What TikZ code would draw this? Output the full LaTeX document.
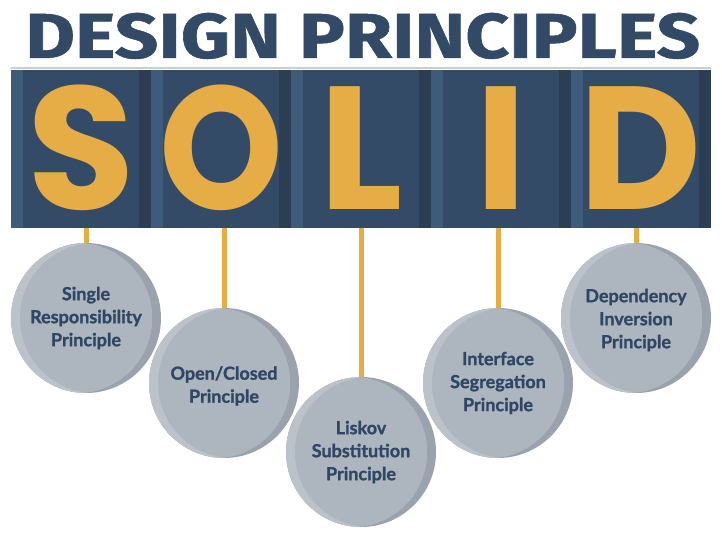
\documentclass[tikz,border=0pt]{standalone}
\usepackage{fontspec}
\usepackage{graphicx}
\newfontfamily\letterfont{Poppins}
\newfontfamily\titlefont{Fira Sans}[BoldFeatures={FakeBold=0.8}]
\newfontfamily\circfont{Lato}[BoldFeatures={FakeBold=1.2}]
\definecolor{navy}{HTML}{324A66}
\definecolor{panelmain}{HTML}{334B67}
\definecolor{panellight}{HTML}{3E5B7A}
\definecolor{paneldark}{HTML}{2C3E54}
\definecolor{gold}{HTML}{E6AC46}
\definecolor{stemgold}{HTML}{E8AC40}
\definecolor{cmain}{HTML}{ADB5BE}
\definecolor{clight}{HTML}{BBC2CA}
\definecolor{cdark}{HTML}{9AA3AD}
\definecolor{rulegray}{HTML}{C8CED6}
\definecolor{ctextcol}{HTML}{2F4765}
\tikzset{
  letter/.style={anchor=base, inner sep=0pt, text=gold, font=\letterfont\bfseries\fontsize{175}{175}\selectfont},
  ctext/.style={circle, minimum size=150pt, inner sep=0pt, align=center, text=ctextcol,
    font=\circfont\bfseries\fontsize{18}{23}\selectfont},
  stem/.style={draw=stemgold, line width=5pt},
}
\begin{document}
\begin{tikzpicture}[x=1pt,y=-1pt]
\useasboundingbox (0,0) rectangle (722,536);
% title
\node[anchor=north west, inner sep=0pt, text=navy] (title) at (25,12.7)
  {\resizebox{675pt}{45pt}{\titlefont\bfseries DESIGN PRINCIPLES}};
\fill[rulegray] (11,67.2) rectangle (711,68.6);
% banner
\node[anchor=north west, inner sep=0pt, minimum width=700pt, minimum height=158.5pt] (banner) at (11,69.5) {};
\foreach \i in {0,...,4} {
  \pgfmathsetmacro{\xa}{11+140*\i}
  \fill[panellight] (\xa,69.5) rectangle (\xa+12,228);
  \fill[panelmain] (\xa+12,69.5) rectangle (\xa+128,228);
  \fill[paneldark] (\xa+128,69.5) rectangle (\xa+140,228);
}
\foreach \L/\i/\sx in {S/0/1,O/1/0.9,L/2/1,I/3/1,D/4/0.96} {
  \pgfmathsetmacro{\xc}{81+140*\i}
  \node[letter] (let\L) at (\xc,209.3) {\scalebox{\sx}[1]{\L}};
}
% circles
\foreach \cx/\cy in {86/318, 224/383, 361/452, 498/383, 636/318} {
  \fill[cdark] (\cx,\cy) circle[radius=75pt];
  \begin{scope}
    \clip (\cx,\cy) circle[radius=75pt];
    \fill[clight] (\cx-9,\cy) circle[radius=75pt];
  \end{scope}
  \begin{scope}
    \clip (\cx+9,\cy) circle[radius=75pt];
    \fill[cmain] (\cx-9,\cy) circle[radius=75pt];
  \end{scope}
}
\node[ctext] (c1) at (86,318) {Single\\Responsibility\\Principle};
\node[ctext] (c2) at (224,386) {Open/Closed\\Principle};
\node[ctext] (c3) at (361,452) {Liskov\\Substitution\\Principle};
\node[ctext] (c4) at (498,383) {Interface\\Segregation\\Principle};
\node[ctext] (c5) at (636,320) {Dependency\\Inversion\\Principle};
\foreach \n/\top in {1/243, 2/308, 3/377, 4/308, 5/243} {
  \coordinate (t\n) at (c\n.center |- 0,\top);
  \draw[stem] (t\n) -- (t\n |- banner.south);
}
\end{tikzpicture}
\end{document}
